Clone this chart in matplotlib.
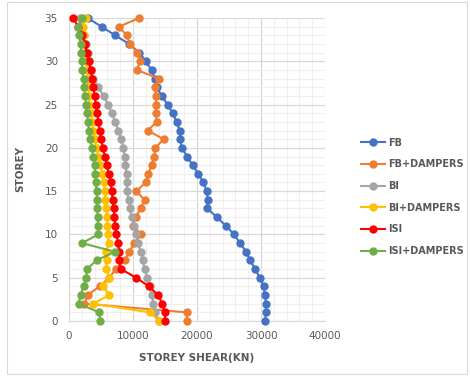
import matplotlib
matplotlib.use('Agg')
import matplotlib.pyplot as plt
from matplotlib.ticker import MultipleLocator
from matplotlib.patches import Rectangle

storey = list(range(36))

# storey shear values (kN), storey 0 .. 35
fb = [30600, 30800, 30800, 30600, 30400, 29800, 29100, 28300, 27700, 26700,
      25800, 24500, 23100, 21600, 21700, 21500, 21000, 20200, 19300, 18500,
      17600, 17400, 17300, 16800, 16200, 15400, 14500, 13700, 13400, 12900,
      12000, 11000, 9400, 7200, 5100, 2900]
fb_damp = [18400, 18400, 2400, 2900, 4800, 6300, 7300, 8700, 9400, 10200,
           11300, 10000, 10400, 11200, 11800, 10500, 12000, 12400, 12900, 13300,
           13500, 14800, 12300, 13700, 13600, 13600, 13600, 13400, 14000, 10600,
           11100, 10700, 9500, 9000, 7800, 11000]
bi = [14000, 13500, 13200, 12900, 12600, 12200, 11800, 11500, 11200, 10800,
      10500, 10100, 9800, 9500, 9300, 9100, 9000, 9000, 8800, 8700,
      8500, 8200, 7700, 7200, 6700, 6100, 5400, 4600, 3800, 3500,
      3200, 2900, 2600, 2300, 2000, 1700]
bi_damp = [14100, 12600, 3800, 6300, 5300, 6300, 5800, 5900, 5800, 6200,
           6100, 6000, 5900, 5800, 5700, 5600, 5400, 5200, 4900, 4600,
           4300, 4000, 3800, 3600, 3400, 3200, 3100, 3000, 2900, 2800,
           2600, 2500, 2400, 2300, 2200, 2600]
isi = [15000, 15000, 14600, 13900, 12500, 10500, 8100, 7800, 7800, 7700,
       7400, 7200, 7100, 7000, 6800, 6700, 6500, 6200, 5900, 5600,
       5300, 5000, 4800, 4600, 4400, 4200, 4000, 3800, 3600, 3400,
       3100, 2800, 2500, 2100, 1400, 700]
isi_damp = [4900, 4700, 1500, 1800, 2300, 2700, 2800, 4300, 7200, 2000,
            4600, 4500, 4500, 4400, 4400, 4300, 4200, 4100, 4000, 3800,
            3600, 3300, 3100, 3000, 2800, 2700, 2500, 2400, 2300, 2100,
            2000, 1900, 1800, 1600, 1400, 2000]

series = [
    ('FB', fb, '#4472C4'),
    ('FB+DAMPERS', fb_damp, '#ED7D31'),
    ('BI', bi, '#A5A5A5'),
    ('BI+DAMPERS', bi_damp, '#FFC000'),
    ('ISI', isi, '#FF0000'),
    ('ISI+DAMPERS', isi_damp, '#70AD47'),
]

fig = plt.figure(figsize=(4.7, 3.76), dpi=100)
fig.patches.append(Rectangle((7 / 470, 2 / 376), 460 / 470, 372 / 376,
                             transform=fig.transFigure, fill=False,
                             edgecolor='#D9D9D9', linewidth=0.8))
ax = fig.add_axes([69 / 470, 55 / 376, 256 / 470, 303 / 376])

for name, vals, col in series:
    ax.plot(vals, storey, color=col, marker='o', markersize=5,
            linewidth=1.5, label=name, clip_on=False, zorder=3)

ax.set_xlim(0, 40000)
ax.set_ylim(0, 35)
ax.xaxis.set_major_locator(MultipleLocator(10000))
ax.xaxis.set_minor_locator(MultipleLocator(2000))
ax.yaxis.set_major_locator(MultipleLocator(5))
ax.yaxis.set_minor_locator(MultipleLocator(1))
ax.grid(which='major', color='#D9D9D9', linewidth=0.9)
ax.grid(which='minor', color='#EFEFEF', linewidth=0.8)
ax.set_axisbelow(True)
for s in ['top', 'right']:
    ax.spines[s].set_visible(False)
ax.spines['left'].set_color('#D9D9D9')
ax.spines['bottom'].set_color('#D9D9D9')
ax.tick_params(which='both', length=0, labelsize=7.5, colors='#595959')
ax.tick_params(axis='x', pad=7)
ax.tick_params(axis='y', pad=8)

ax.set_xlabel('STOREY SHEAR(KN)', fontsize=7.5, color='#595959',
              fontweight='bold', labelpad=9)
ax.set_ylabel('STOREY', fontsize=7.5, color='#595959', fontweight='bold',
              labelpad=14)

leg = fig.legend(loc='upper left', bbox_to_anchor=(352 / 470, 1 - 129 / 376),
                 frameon=False, fontsize=7, handlelength=2.5,
                 labelspacing=1.2, handletextpad=0.35)
for t in leg.get_texts():
    t.set_color('#595959')
    t.set_fontweight('bold')

fig.savefig('out.png', dpi=100)
